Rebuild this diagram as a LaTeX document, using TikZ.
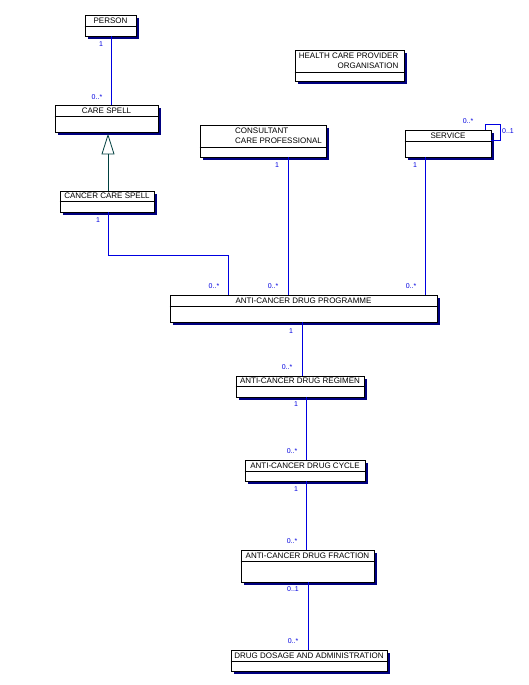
\documentclass[tikz,border=0pt]{standalone}
\usepackage{fontspec}
\setmainfont{Liberation Sans}
\usetikzlibrary{shadows}
\definecolor{shadenavy}{RGB}{0,0,128}
\definecolor{linkblue}{RGB}{0,0,225}
\definecolor{gencol}{RGB}{0,64,64}
\tikzset{
  cls/.style={draw=black, line width=0.9pt, fill=white, inner sep=0pt, rectangle,
    drop shadow={shadow xshift=3pt, shadow yshift=-3pt, fill=shadenavy, opacity=1}},
  divline/.style={draw=black, line width=0.8pt},
  ttl/.style={inner sep=0pt, font=\fontsize{8}{10}\selectfont, text=black},
  lab/.style={inner sep=0pt, font=\fontsize{7}{8}\selectfont, text=linkblue},
  assoc/.style={draw=linkblue, line width=0.8pt},
  genline/.style={draw=gencol, line width=0.8pt}
}
\begin{document}
\begin{tikzpicture}[x=1pt, y=-1pt]
\fill[white] (0,0) rectangle (529,685);
\useasboundingbox (0,0) rectangle (529,685);

% ---- classes ----
\node[cls, minimum width=51pt, minimum height=21pt] (person) at (110.5,25.5) {};
\draw[divline] (person.west |- 0,26) -- (person.east |- 0,26);
\node[ttl] (person-t) at (110.5,20.5) {PERSON};

\node[cls, minimum width=103pt, minimum height=27pt] (carespell) at (106.5,118.5) {};
\draw[divline] (carespell.west |- 0,116) -- (carespell.east |- 0,116);
\node[ttl] (carespell-t) at (106.5,110.5) {CARE SPELL};

\node[cls, minimum width=94pt, minimum height=21pt] (cancer) at (107,201.5) {};
\draw[divline] (cancer.west |- 0,201.5) -- (cancer.east |- 0,201.5);
\node[ttl] (cancer-t) at (107,196) {CANCER CARE SPELL};

\node[cls, minimum width=109pt, minimum height=31pt] (hcpo) at (349.5,65.5) {};
\draw[divline] (hcpo.west |- 0,72) -- (hcpo.east |- 0,72);
\node[ttl, align=right, anchor=east] (hcpo-t) at (398.5,61) {HEALTH CARE PROVIDER\\ORGANISATION};

\node[cls, minimum width=126pt, minimum height=32pt] (consultant) at (263,141) {};
\draw[divline] (consultant.west |- 0,147) -- (consultant.east |- 0,147);
\node[ttl, align=left, anchor=west] (consultant-t) at (235,136) {CONSULTANT\\CARE PROFESSIONAL};

\node[cls, minimum width=86pt, minimum height=27pt] (service) at (448,143.5) {};
\draw[divline] (service.west |- 0,141) -- (service.east |- 0,141);
\node[ttl] (service-t) at (448,135.5) {SERVICE};

\node[cls, minimum width=267pt, minimum height=27pt] (programme) at (303.5,308.5) {};
\draw[divline] (programme.west |- 0,306) -- (programme.east |- 0,306);
\node[ttl] (programme-t) at (303.5,300.5) {ANTI-CANCER DRUG PROGRAMME};

\node[cls, minimum width=128pt, minimum height=21pt] (regimen) at (300,386.5) {};
\draw[divline] (regimen.west |- 0,386) -- (regimen.east |- 0,386);
\node[ttl] (regimen-t) at (300,381) {ANTI-CANCER DRUG REGIMEN};

\node[cls, minimum width=120pt, minimum height=21pt] (cycle) at (305,470.5) {};
\draw[divline] (cycle.west |- 0,471) -- (cycle.east |- 0,471);
\node[ttl] (cycle-t) at (305,466) {ANTI-CANCER DRUG CYCLE};

\node[cls, minimum width=133pt, minimum height=32pt] (fraction) at (307.5,566) {};
\draw[divline] (fraction.west |- 0,561.5) -- (fraction.east |- 0,561.5);
\node[ttl] (fraction-t) at (307.5,555.5) {ANTI-CANCER DRUG FRACTION};

\node[cls, minimum width=156pt, minimum height=21pt] (dosage) at (309,660.5) {};
\draw[divline] (dosage.west |- 0,661) -- (dosage.east |- 0,661);
\node[ttl] (dosage-t) at (309,655.5) {DRUG DOSAGE AND ADMINISTRATION};

% ---- connectors ----
\draw[assoc] (person.south -| 111,0) -- (carespell.north -| 111,0);

\coordinate (gapex) at (108,135);
\coordinate (gbase) at (108,154);
\draw[genline] (cancer.north -| 108,0) -- (gbase);
\draw[genline] (gapex) -- (102,154) -- (114,154) -- cycle;

\coordinate (cbend1) at (108,255);
\coordinate (cbend2) at (228.5,255);
\draw[assoc] (cancer.south -| 108,0) -- (cbend1) -- (cbend2) -- (programme.north -| cbend2);

\draw[assoc] (consultant.south -| 288,0) -- (programme.north -| 288,0);
\draw[assoc] (service.south -| 425,0) -- (programme.north -| 425,0);

\coordinate (sl1) at (485.5,124.5);
\coordinate (sl2) at (500.5,124.5);
\coordinate (sl3) at (500.5,140);
\draw[assoc] (service.north -| sl1) -- (sl1) -- (sl2) -- (sl3) -- (service.east |- sl3);

\draw[assoc] (programme.south -| 302,0) -- (regimen.north -| 302,0);
\draw[assoc] (regimen.south -| 306.5,0) -- (cycle.north -| 306.5,0);
\draw[assoc] (cycle.south -| 306.5,0) -- (fraction.north -| 306.5,0);
\draw[assoc] (fraction.south -| 308,0) -- (dosage.north -| 308,0);

% ---- multiplicities ----
\node[lab] (m1) at (101,44) {1};
\node[lab] (m2) at (97,97) {0..*};
\node[lab] (m3) at (98,220) {1};
\node[lab] (m4) at (214,286) {0..*};
\node[lab] (m5) at (277,165) {1};
\node[lab] (m6) at (273,286) {0..*};
\node[lab] (m7) at (415,165) {1};
\node[lab] (m8) at (411,286) {0..*};
\node[lab] (m9) at (468,121) {0..*};
\node[lab] (m10) at (508,131) {0..1};
\node[lab] (m11) at (291,331) {1};
\node[lab] (m12) at (287,367) {0..*};
\node[lab] (m13) at (296,404) {1};
\node[lab] (m14) at (292,451) {0..*};
\node[lab] (m15) at (296,489) {1};
\node[lab] (m16) at (292,541) {0..*};
\node[lab] (m17) at (293,589) {0..1};
\node[lab] (m18) at (293,641) {0..*};
\end{tikzpicture}
\end{document}
